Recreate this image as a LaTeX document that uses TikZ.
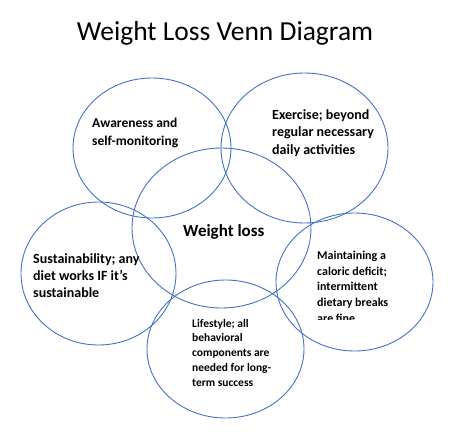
\documentclass[tikz,border=0pt]{standalone}
\usepackage{fontspec}
\setmainfont{Carlito}
\usetikzlibrary{shapes.geometric}
\definecolor{vennblue}{HTML}{4472C4}
\begin{document}
\begin{tikzpicture}[x=1pt,y=-1pt,
  venn/.style={draw=vennblue, line width=0.9pt, ellipse, inner sep=0pt},
  lbl/.style={font=\bfseries, align=left, anchor=base west, inner sep=0pt}]
\useasboundingbox (0,0) rectangle (449,447);
\node[font=\fontsize{27.5}{30}\selectfont, anchor=base, inner sep=0pt] (title) at (225,40.7) {Weight Loss Venn Diagram};
\node[venn, minimum width=158pt, minimum height=140pt] (aw) at (152,148) {};
\node[venn, minimum width=167pt, minimum height=150pt] (ex) at (304.5,148) {};
\node[venn, minimum width=179pt, minimum height=160pt] (wl) at (221.5,228) {};
\node[venn, minimum width=155pt, minimum height=143pt] (su) at (98.5,273.5) {};
\node[venn, minimum width=157pt, minimum height=138pt] (ma) at (354.5,282) {};
\node[venn, minimum width=157pt, minimum height=138pt] (li) at (225.5,349) {};
\node[lbl, font=\bfseries\fontsize{13.5}{18}\selectfont] (awt) at (92,145) {Awareness and\\self-monitoring};
\begin{scope}
\clip (260,95) rectangle (400,155);
\node[lbl, font=\bfseries\fontsize{14}{17.5}\selectfont] (ext) at (272,154) {Exercise; beyond\\regular necessary\\daily activities};
\end{scope}
\node[lbl, font=\bfseries\fontsize{17}{20}\selectfont] (wlt) at (183,236) {Weight loss};
\node[lbl, font=\bfseries\fontsize{14}{17}\selectfont] (sut) at (33,297) {Sustainability; any\\diet works IF it’s\\sustainable};
\begin{scope}
\clip (305,240) rectangle (420,319.5);
\node[lbl, font=\bfseries\fontsize{12}{15.7}\selectfont] (mat) at (317,322.3) {Maintaining a\\caloric deficit;\\intermittent\\dietary breaks\\are fine};
\end{scope}
\node[lbl, font=\bfseries\fontsize{11.5}{14.8}\selectfont] (lit) at (192,386.2) {Lifestyle; all\\behavioral\\components are\\needed for long-\\term success};
\end{tikzpicture}
\end{document}
